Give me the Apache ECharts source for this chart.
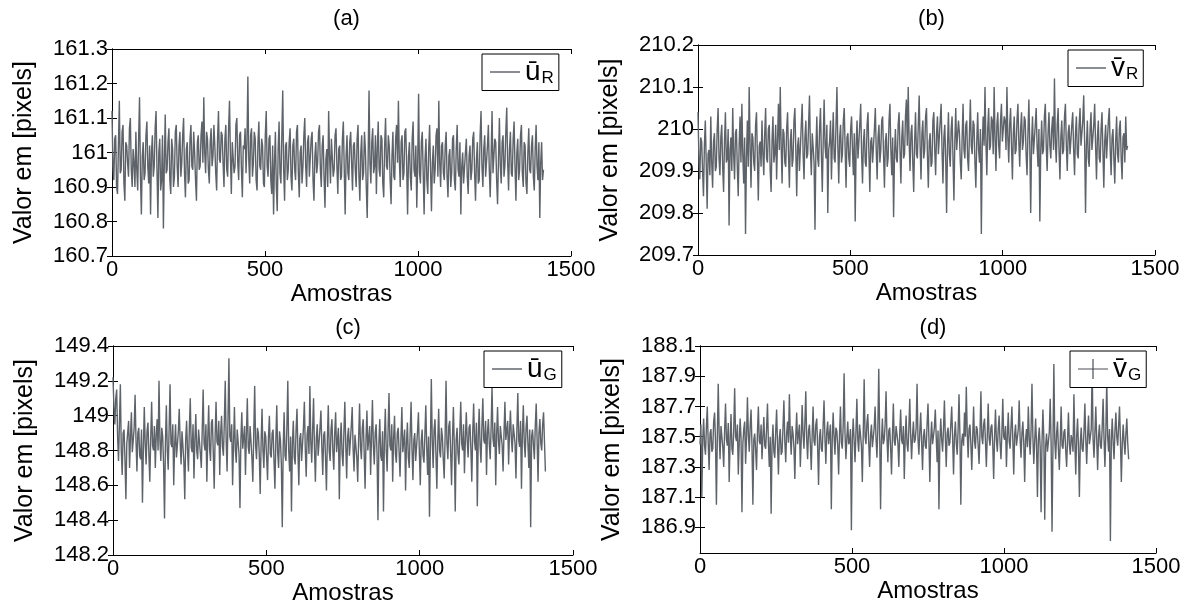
<!DOCTYPE html>
<html>
<head>
<meta charset="utf-8">
<script src="https://cdn.jsdelivr.net/npm/echarts@6/dist/echarts.min.js"></script>
<style>
html,body{margin:0;padding:0;background:#fff;}
#chart{width:1192px;height:606px;}
</style>
</head>
<body>
<div id="chart"></div>
<script>
// ---- data (sample number = index * SAMPLE_STEP) ----
const SAMPLE_STEP = 3;
const panelTitles = ['(a)', '(b)', '(c)', '(d)'];
const xTicks = [0, 500, 1000, 1500];

const uR = [
161.12,160.96,160.92,161.04,161.05,160.90,160.88,161.02,161.15,160.94,160.95,161.06,161.08,160.91,160.86,161.03,161.02,160.97,160.93,161.07,161.10,160.95,160.90,161.01,
160.97,160.90,161.06,160.95,160.89,161.04,161.16,160.93,160.82,160.99,161.03,160.92,160.94,161.05,161.09,160.96,160.91,161.02,160.82,161.00,161.05,160.93,160.96,161.07,
161.12,160.95,160.81,161.00,161.04,160.89,160.92,161.05,160.78,160.97,161.11,160.94,160.95,161.03,161.07,160.92,160.88,161.04,161.01,160.90,160.93,161.06,161.08,160.96,
160.90,161.02,161.06,160.93,160.97,161.05,161.10,160.94,160.87,161.01,161.03,160.91,160.92,161.04,161.08,160.96,160.95,161.06,161.00,160.92,160.86,161.03,161.05,160.95,
160.96,161.05,161.09,160.97,161.16,161.00,160.94,161.06,161.04,160.95,160.91,161.03,161.07,160.96,160.99,161.08,161.02,160.94,160.89,161.04,161.12,160.98,160.97,161.06,
161.05,160.97,160.90,161.04,161.08,160.95,160.93,161.07,161.15,160.99,160.88,161.03,161.03,160.94,160.96,161.08,161.10,160.97,160.92,161.05,161.06,160.95,160.87,161.02,
161.01,161.07,160.94,161.03,161.22,160.98,160.91,161.05,161.07,160.93,160.97,161.06,161.04,160.92,160.89,161.03,161.09,160.96,160.95,161.04,161.02,160.91,160.90,161.05,
161.12,160.96,160.93,161.04,161.05,160.92,160.88,161.02,160.82,160.97,161.06,160.90,160.83,161.01,161.09,160.94,160.91,161.05,161.18,160.95,160.86,161.02,161.03,160.92,
160.95,161.03,161.07,160.93,160.89,161.02,161.04,160.95,160.92,161.06,161.08,160.94,160.87,161.00,161.02,160.91,160.96,161.05,161.10,160.96,160.90,161.03,161.05,160.93,
160.93,161.04,161.06,160.92,160.86,160.99,161.03,160.94,160.97,161.06,161.08,160.95,160.90,161.02,161.05,160.93,160.84,160.98,161.01,160.90,161.12,160.99,160.91,161.04,
161.04,160.93,160.95,161.05,161.07,160.96,160.88,161.01,161.02,160.92,160.93,161.04,161.09,160.95,160.82,160.99,161.05,160.94,160.92,161.03,161.06,160.97,160.89,161.02,
161.03,160.95,160.90,161.04,161.08,160.93,160.86,161.00,161.05,160.92,160.94,161.06,161.01,160.90,160.81,160.98,161.18,160.97,160.91,161.03,161.07,160.94,160.96,161.05,
160.88,161.01,161.09,160.95,160.93,161.05,161.04,160.91,160.87,161.02,161.10,160.96,160.95,161.05,161.02,160.92,160.85,160.99,161.06,160.93,160.92,161.04,161.08,160.97,
161.15,160.98,160.90,161.03,161.05,160.92,160.94,161.06,161.07,160.96,160.82,160.99,161.03,160.93,160.89,161.04,161.09,160.95,160.93,161.02,160.84,160.97,161.17,160.94,
160.91,161.03,161.06,160.94,160.82,160.98,161.04,160.92,160.88,161.01,161.08,160.95,160.83,160.97,161.02,160.91,160.95,161.05,161.07,160.93,161.15,160.97,160.90,161.02,
161.03,160.94,160.92,161.02,161.06,160.93,160.87,160.99,161.01,160.90,160.94,161.04,161.05,160.92,160.89,161.01,161.08,160.95,160.93,161.03,160.82,160.96,161.00,160.91,
160.91,161.00,161.04,160.93,160.88,160.99,161.02,160.92,160.95,161.04,161.06,160.94,160.86,160.98,161.03,160.91,160.92,161.05,161.12,160.96,160.90,161.01,161.05,160.93,
160.93,161.02,161.08,160.95,160.87,160.99,161.12,160.94,160.94,161.04,161.03,160.92,160.85,160.98,161.10,160.96,160.91,161.03,161.05,160.93,160.96,161.06,161.13,160.97,
160.89,161.01,161.06,160.94,160.93,161.04,161.09,160.96,160.86,161.00,161.04,160.92,160.95,161.05,161.08,160.94,160.90,161.03,161.02,160.91,160.88,161.00,161.07,160.95,
160.94,161.02,161.05,160.93,160.89,161.01,161.08,160.96,160.92,161.03,160.81,160.97,161.03,160.92,160.95
];

const vR = [
210.04,209.93,209.88,209.98,209.97,209.90,209.84,209.96,210.02,209.92,209.81,209.94,209.95,209.89,210.03,209.92,209.86,209.97,209.99,209.90,209.91,210.00,210.05,209.93,
209.89,209.98,210.01,209.91,209.85,209.97,210.04,209.92,209.93,210.00,209.77,209.95,209.98,209.90,210.05,209.94,209.88,209.99,210.00,209.91,209.84,209.96,210.03,209.92,
210.06,209.94,209.87,209.98,209.75,209.93,210.02,209.91,210.10,209.96,209.86,209.99,209.98,209.92,209.90,210.01,210.04,209.93,209.83,209.96,209.97,209.91,210.02,209.94,
209.89,209.99,210.05,209.93,209.92,210.00,210.01,209.90,209.85,209.97,210.03,209.92,209.94,210.01,209.88,209.97,210.06,209.95,210.10,209.96,209.87,210.00,209.99,209.92,
209.91,210.00,210.04,209.94,209.86,209.97,210.00,209.91,209.93,210.02,210.05,209.95,209.84,209.96,209.98,209.90,209.90,210.01,210.06,209.94,209.88,209.98,210.02,209.93,
209.94,210.01,210.08,209.95,209.89,209.99,209.99,209.92,209.76,209.95,210.03,209.93,209.91,210.00,210.05,209.94,209.85,209.97,210.07,209.96,209.93,210.01,209.80,209.95,
209.97,210.02,209.88,209.97,210.04,209.93,209.92,210.01,210.10,209.96,209.87,209.98,210.01,209.92,209.94,210.02,210.05,209.95,209.86,209.98,209.99,209.93,209.91,210.00,
210.03,209.95,209.89,209.99,209.78,209.96,210.02,209.93,209.93,210.01,210.06,209.94,209.87,209.97,210.00,209.92,209.91,210.01,210.04,209.94,209.85,209.97,209.98,209.92,
209.92,210.00,210.05,209.95,209.88,209.98,210.01,209.92,209.95,210.02,210.03,209.94,209.86,209.97,209.99,209.91,209.93,210.02,210.06,209.95,209.89,209.98,209.79,209.94,
210.00,209.93,209.92,210.01,210.04,209.95,209.87,209.98,210.02,209.93,209.94,210.03,210.07,209.96,210.10,209.97,209.90,209.99,210.01,209.92,209.85,209.97,210.04,209.94,
209.93,210.01,210.08,209.96,209.88,209.99,210.02,209.93,209.95,210.03,210.05,209.94,209.86,209.97,209.99,209.91,209.92,210.02,210.04,209.95,209.89,209.99,210.03,209.94,
209.94,210.02,210.06,209.95,209.87,209.98,210.01,209.93,209.80,209.96,210.04,209.94,209.91,210.00,210.03,209.93,209.83,209.97,210.05,209.95,209.95,210.02,209.99,209.92,
209.88,209.98,210.06,209.95,209.93,210.01,210.02,209.93,209.90,209.99,210.07,209.96,209.94,210.02,210.01,209.92,209.86,209.97,210.04,209.95,209.92,210.00,209.75,209.96,
210.03,209.96,210.10,209.97,209.89,210.00,210.05,209.95,209.96,210.03,210.02,209.94,210.10,209.98,209.90,210.01,210.04,209.96,209.93,210.02,210.06,209.97,209.97,210.03,
210.02,209.95,210.10,209.98,209.92,210.01,210.05,209.96,209.88,209.99,210.03,209.94,209.95,210.02,210.06,209.97,209.91,210.00,210.04,209.95,209.97,210.03,210.02,209.94,
209.89,209.99,210.07,209.96,209.80,209.97,210.03,209.94,209.94,210.01,210.05,209.96,209.91,210.00,209.78,209.95,210.02,209.94,209.95,210.03,210.06,209.96,209.90,209.99,
210.04,209.96,209.93,210.00,210.03,209.95,210.12,209.97,209.92,210.01,210.05,209.95,209.88,209.98,210.02,209.94,209.95,210.03,210.06,209.96,209.90,209.99,210.01,209.94,
209.94,210.01,210.04,209.95,209.89,209.99,210.03,209.94,209.93,210.01,210.05,209.96,209.96,210.02,210.08,209.97,209.80,209.96,210.02,209.93,209.91,210.00,210.04,209.95,
209.95,210.01,210.06,209.96,209.88,209.98,210.02,209.93,209.92,210.00,210.04,209.95,209.86,209.97,210.01,209.93,209.93,210.02,210.05,209.95,209.89,209.98,210.00,209.93,
209.87,209.97,210.03,209.94,209.92,210.00,210.02,209.93,209.88,209.98,209.99,209.92,210.03,209.95,209.96
];

const uG = [
149.22,149.05,148.95,149.10,149.15,148.88,148.74,148.96,149.18,148.80,148.66,148.90,148.92,148.75,148.52,148.84,148.85,148.97,148.70,148.88,149.02,148.79,148.78,148.93,
149.12,148.86,148.68,148.90,148.93,148.77,148.75,148.92,148.50,148.81,149.05,148.84,148.72,148.91,148.96,148.78,148.62,148.87,149.08,148.83,148.80,148.94,148.70,148.89,
148.98,148.80,149.20,148.86,148.74,148.93,148.88,148.72,148.41,148.85,149.06,148.80,148.69,148.92,149.18,148.84,148.82,148.95,148.60,148.83,148.95,148.76,148.77,148.91,
149.04,148.85,148.72,148.91,148.90,148.74,148.52,148.86,148.97,148.80,148.68,148.93,149.10,148.82,148.79,148.95,148.64,148.86,149.01,148.80,148.75,148.92,148.93,148.78,
148.70,148.92,149.15,148.84,148.80,148.95,148.62,148.87,149.06,148.81,148.74,148.96,148.98,148.79,148.58,148.88,149.08,148.85,148.83,148.97,148.66,148.90,149.00,148.82,
148.77,148.96,149.20,148.86,148.68,148.98,149.33,148.88,148.85,148.95,148.60,148.84,149.05,148.80,148.73,148.92,148.92,148.78,148.47,148.86,149.02,148.81,148.80,148.94,
148.66,148.89,149.10,148.82,148.78,148.94,148.95,148.76,148.62,148.90,149.17,148.83,148.75,148.93,148.90,148.78,148.55,148.85,149.04,148.80,148.70,148.91,148.88,148.76,
148.63,148.88,149.00,148.78,148.76,148.90,148.92,148.74,148.58,148.86,149.06,148.79,148.70,148.91,148.86,148.72,148.36,148.82,149.02,148.77,148.74,148.93,149.20,148.80,
148.68,148.88,148.45,148.84,148.97,148.76,148.72,148.92,149.04,148.79,148.60,148.87,148.90,148.74,148.75,148.93,149.08,148.81,148.65,148.89,148.94,148.78,149.17,148.85,
148.73,148.92,149.10,148.81,148.62,148.87,148.95,148.77,148.78,148.93,149.03,148.82,148.66,148.89,148.91,148.76,148.57,148.86,149.06,148.80,148.74,148.92,148.98,148.79,
148.69,148.90,149.02,148.79,148.80,148.93,148.52,148.85,148.96,148.78,148.71,148.91,149.08,148.83,148.64,148.88,148.93,148.77,148.76,148.94,149.05,148.81,148.68,148.89,
148.90,148.76,148.62,148.87,149.07,148.82,148.75,148.93,148.98,148.79,148.58,148.86,149.03,148.80,148.79,148.94,148.66,148.88,149.09,148.83,148.72,148.90,148.95,148.78,
148.40,148.84,148.98,148.77,148.74,148.91,148.45,148.86,149.04,148.80,148.68,148.92,149.13,148.83,148.80,148.95,148.62,148.87,149.00,148.78,148.73,148.90,148.93,148.79,
148.65,148.87,149.05,148.79,148.78,148.92,148.57,148.84,148.96,148.76,148.70,148.90,149.08,148.81,148.63,148.86,148.90,148.74,148.75,148.91,149.02,148.79,148.60,148.85,
148.92,148.77,148.73,148.89,149.06,148.82,148.66,148.88,148.42,148.83,149.21,148.86,148.70,148.92,148.98,148.78,148.58,148.85,149.04,148.80,148.76,148.93,148.88,148.75,
148.64,148.88,149.20,148.84,148.75,148.94,148.97,148.79,148.60,148.87,149.05,148.82,148.45,148.86,148.93,148.78,148.72,148.91,149.08,148.84,148.80,148.95,148.67,148.86,
149.02,148.86,148.76,148.93,148.95,148.81,148.62,148.90,149.07,148.85,148.80,148.96,148.48,148.88,149.04,148.83,148.73,148.94,149.10,148.86,148.84,148.97,148.66,148.90,
148.98,148.84,148.75,148.93,149.17,148.87,148.82,148.96,148.60,148.89,149.05,148.85,148.78,148.94,148.95,148.83,148.68,148.90,149.08,148.86,148.86,148.97,148.72,148.91,
149.03,148.87,148.79,148.95,148.96,148.84,148.64,148.92,149.13,148.86,148.82,148.97,148.58,148.89,149.06,148.85,148.76,148.93,149.00,148.84,148.70,148.92,148.36,148.88,
148.92,148.83,148.75,148.94,149.07,148.86,148.62,148.90,148.98,148.84,148.80,148.95,149.02,148.85,148.68
];

const vG = [
187.45,187.58,187.10,187.48,187.62,187.44,187.38,187.56,187.70,187.46,187.28,187.52,187.55,187.40,187.42,187.60,187.66,187.47,187.05,187.50,187.85,187.52,187.35,187.57,
187.58,187.43,187.30,187.54,187.72,187.48,187.44,187.59,187.20,187.47,187.65,187.42,187.38,187.55,187.82,187.50,187.47,187.58,187.25,187.46,187.62,187.49,187.00,187.45,
187.55,187.60,187.32,187.49,187.76,187.52,187.40,187.57,187.68,187.44,187.05,187.48,187.52,187.41,187.28,187.53,187.70,187.47,187.45,187.58,187.35,187.50,187.63,187.44,
187.42,187.55,187.72,187.46,187.30,187.50,186.99,187.44,187.58,187.40,187.36,187.53,187.68,187.45,187.25,187.49,187.55,187.38,187.40,187.56,187.74,187.47,187.33,187.52,
187.60,187.46,187.78,187.51,187.38,187.57,187.52,187.43,187.22,187.50,187.66,187.45,187.45,187.58,187.30,187.48,187.71,187.52,187.42,187.59,187.80,187.48,187.35,187.54,
187.58,187.45,187.28,187.51,187.70,187.47,187.44,187.58,187.62,187.43,187.18,187.50,187.55,187.42,187.40,187.57,187.74,187.49,187.32,187.53,187.60,187.45,187.46,187.58,
187.02,187.48,187.66,187.50,187.38,187.56,187.54,187.44,187.25,187.51,187.70,187.46,187.42,187.57,187.92,187.52,187.35,187.49,187.60,187.45,187.47,187.55,186.88,187.48,
187.62,187.47,187.33,187.53,187.75,187.48,187.40,187.58,187.57,187.44,187.20,187.52,187.88,187.50,187.45,187.59,187.65,187.46,187.30,187.51,187.58,187.43,187.42,187.56,
187.70,187.49,187.36,187.55,187.95,187.52,187.02,187.47,187.62,187.45,187.48,187.58,187.80,187.50,187.33,187.54,187.56,187.43,187.25,187.50,187.72,187.47,187.44,187.57,
187.58,187.46,187.30,187.52,187.68,187.48,187.45,187.57,187.22,187.49,187.64,187.45,187.40,187.55,187.75,187.51,187.35,187.50,187.60,187.46,187.48,187.56,187.85,187.49,
187.38,187.53,187.66,187.47,187.28,187.50,187.55,187.44,187.42,187.58,187.72,187.49,187.20,187.48,187.60,187.45,187.45,187.56,187.68,187.50,187.33,187.54,187.02,187.47,
187.62,187.48,187.40,187.55,187.74,187.50,187.30,187.52,187.56,187.44,187.46,187.58,187.70,187.49,187.25,187.50,187.60,187.46,187.38,187.54,187.78,187.51,187.05,187.47,
187.52,187.44,187.66,187.50,187.83,187.53,187.36,187.55,187.58,187.45,187.28,187.49,187.70,187.47,187.42,187.57,187.55,187.44,187.32,187.52,187.80,187.50,187.45,187.58,
187.62,187.47,187.30,187.51,187.72,187.49,187.44,187.56,187.58,187.45,187.22,187.50,187.68,187.48,187.40,187.55,187.64,187.46,187.35,187.52,187.75,187.50,187.48,187.57,
187.30,187.50,187.66,187.47,187.42,187.56,187.70,187.48,187.25,187.51,187.58,187.44,187.45,187.55,187.74,187.49,187.36,187.52,187.60,187.46,187.20,187.48,187.55,187.43,
187.70,187.49,187.38,187.54,187.85,187.50,187.32,187.47,187.62,187.45,187.10,187.48,187.56,187.43,187.00,187.46,187.68,187.49,186.95,187.44,187.52,187.40,187.40,187.53,
187.75,187.46,186.87,187.43,187.98,187.48,187.35,187.52,187.60,187.42,187.28,187.47,187.70,187.44,187.42,187.53,187.55,187.41,187.30,187.48,187.66,187.45,187.38,187.51,
187.48,187.40,187.78,187.47,187.25,187.50,187.62,187.43,187.10,187.46,187.56,187.42,187.40,187.53,187.72,187.48,187.32,187.50,187.64,187.45,187.45,187.55,187.98,187.49,
187.36,187.52,187.70,187.48,187.28,187.50,187.58,187.44,187.42,187.56,187.75,187.49,187.30,187.53,187.88,187.50,187.40,187.55,186.81,187.47,187.62,187.46,187.35,187.54,
187.66,187.50,187.44,187.57,187.70,187.48,187.20,187.45,187.58,187.47,187.38,187.52,187.62,187.46,187.35
];

const yTicksA = [160.7, 160.8, 160.9, 161, 161.1, 161.2, 161.3];
const yTicksB = [209.7, 209.8, 209.9, 210, 210.1, 210.2];
const yTicksC = [148.2, 148.4, 148.6, 148.8, 149, 149.2, 149.4];
const yTicksD = [186.9, 187.1, 187.3, 187.5, 187.7, 187.9, 188.1];

// ---- layout ----
const FONT = 'Liberation Sans';
const LINE_COLOR = '#5d6369';
const LINE_ICON = 'path://M0,0 H30 V1.3 H0 Z';
const PLUS_ICON = 'path://M0,9.4 H30 V10.6 H0 Z M14.4,0 H15.6 V20 H14.4 Z';
const panels = [
  {name: 'uR', data: uR, ticks: yTicksA, min: 160.7, max: 161.3, grid: {left: 112, top: 49, width: 459, height: 207}, legend: {left: 482, top: 54}, titleTop: 3, base: 'ū', sub: 'R', icon: LINE_ICON},
  {name: 'vR', data: vR, ticks: yTicksB, min: 209.7, max: 210.2, grid: {left: 698, top: 45, width: 457, height: 210}, legend: {left: 1068, top: 50}, titleTop: 3, base: 'v̄', sub: 'R', icon: LINE_ICON},
  {name: 'uG', data: uG, ticks: yTicksC, min: 148.2, max: 149.4, grid: {left: 113, top: 346, width: 460, height: 209}, legend: {left: 484, top: 351}, titleTop: 312, base: 'ū', sub: 'G', icon: LINE_ICON},
  {name: 'vG', data: vG, ticks: yTicksD, min: 186.73, max: 188.1, grid: {left: 700, top: 346, width: 456, height: 207}, legend: {left: 1070, top: 351}, titleTop: 312, base: 'v̄', sub: 'G', icon: PLUS_ICON}
];

const grids = [], xAxes = [], yAxes = [], series = [], legends = [], titles = [];
panels.forEach((p, i) => {
  grids.push(Object.assign({containLabel: false}, p.grid));
  const axisLine = {show: true, lineStyle: {color: '#000', width: 1}};
  const tickIn = {show: true, inside: true, length: 5, lineStyle: {color: '#000'}};
  xAxes.push({
    type: 'value', gridIndex: i, min: 0, max: 1500, interval: 500, position: 'bottom',
    axisLine, axisTick: tickIn, splitLine: {show: false},
    axisLabel: {color: '#000', fontFamily: FONT, fontSize: 22, margin: 3, customValues: xTicks, formatter: v => String(v)},
    name: 'Amostras', nameLocation: 'middle', nameGap: 23,
    nameTextStyle: {color: '#000', fontFamily: FONT, fontSize: 24}
  });
  xAxes.push({
    type: 'value', gridIndex: i, min: 0, max: 1500, interval: 500, position: 'top',
    axisLine, axisTick: tickIn, splitLine: {show: false}, axisLabel: {show: false}
  });
  const yCommon = {
    type: 'value', gridIndex: i, min: p.min, max: p.max, scale: true,
    axisLine, splitLine: {show: false},
    axisTick: Object.assign({customValues: p.ticks}, tickIn)
  };
  yAxes.push(Object.assign({}, yCommon, {
    position: 'left',
    axisLabel: {color: '#000', fontFamily: FONT, fontSize: 22, margin: 4, customValues: p.ticks,
      formatter: v => String(Math.round(v * 10) / 10)},
    name: 'Valor em [pixels]', nameLocation: 'middle', nameGap: 75, nameRotate: 90,
    nameTextStyle: {color: '#000', fontFamily: FONT, fontSize: 25}
  }));
  yAxes.push(Object.assign({}, yCommon, {position: 'right', axisLabel: {show: false}}));

  series.push({
    name: p.name, type: 'line', xAxisIndex: i * 2, yAxisIndex: i * 2,
    data: p.data.map((v, k) => [k * SAMPLE_STEP, v]),
    symbol: 'none', showSymbol: false,
    lineStyle: {color: LINE_COLOR, width: 1.4}, itemStyle: {color: LINE_COLOR},
    animation: false, silent: true
  });
  legends.push({
    data: [{name: p.name, icon: p.icon}], left: p.legend.left, top: p.legend.top, orient: 'horizontal',
    backgroundColor: '#fff', borderColor: '#000', borderWidth: 1, borderRadius: 0,
    padding: [4, 5, 4, 8], itemWidth: 30, itemHeight: 20, itemGap: 4, selectedMode: false,
    itemStyle: {color: '#4a4f55'}, symbolKeepAspect: true,
    formatter: () => '{b|' + p.base + '}{s|' + p.sub + '}',
    textStyle: {
      color: '#000', fontFamily: FONT,
      rich: {b: {fontSize: 28, fontFamily: FONT, color: '#000'}, s: {fontSize: 17, fontFamily: FONT, color: '#000', padding: [12, 0, 0, 1]}}
    }
  });
  titles.push({
    text: panelTitles[i], left: p.grid.left + p.grid.width / 2, top: p.titleTop, textAlign: 'center',
    textStyle: {color: '#000', fontFamily: FONT, fontSize: 22, fontWeight: 'normal'}
  });
});

const chart = echarts.init(document.getElementById('chart'), null, {renderer: 'canvas'});
chart.setOption({
  backgroundColor: '#fff',
  animation: false,
  title: titles,
  grid: grids,
  xAxis: xAxes,
  yAxis: yAxes,
  legend: legends,
  series: series
});
</script>
</body>
</html>
